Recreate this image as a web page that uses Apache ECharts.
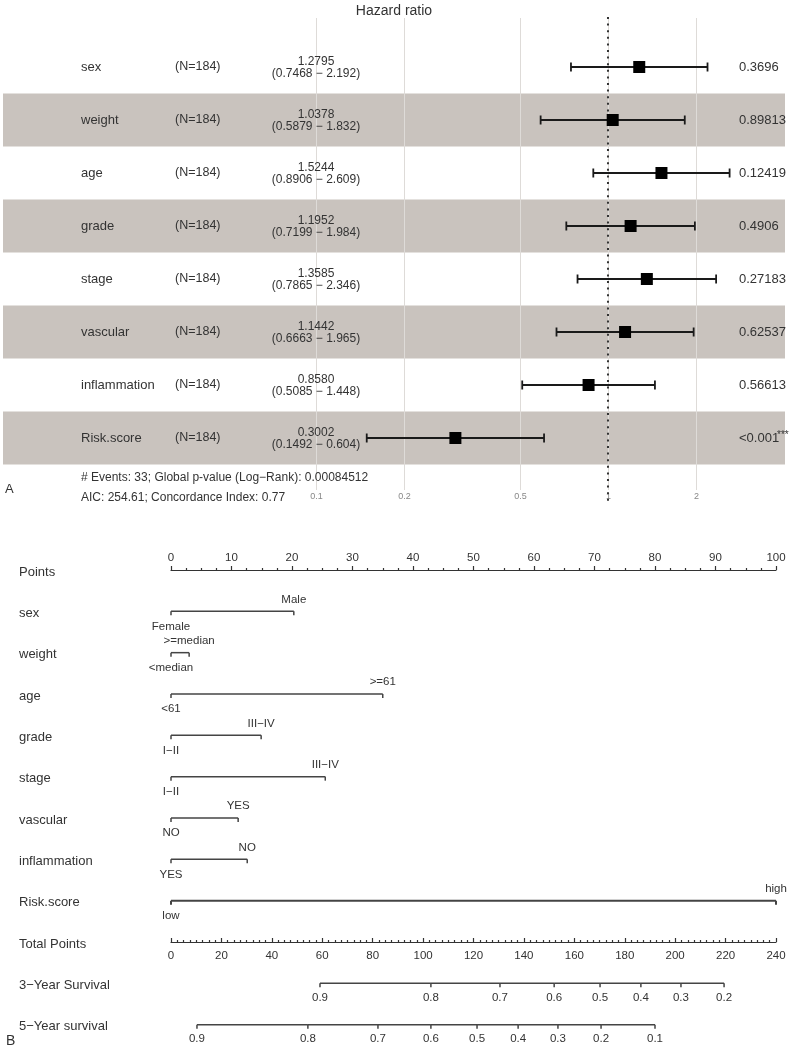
<!DOCTYPE html>
<html><head><meta charset="utf-8">
<script src="https://cdn.jsdelivr.net/npm/echarts@6/dist/echarts.min.js"></script>
<style>html,body{margin:0;padding:0;background:#fff}#c{width:800px;height:1052px}</style>
</head><body><div id="c"></div>
<script>
// ---------- Panel A: forest plot data ----------
const variables = ['sex','weight','age','grade','stage','vascular','inflammation','Risk.score'];
const nLabels = ['(N=184)','(N=184)','(N=184)','(N=184)','(N=184)','(N=184)','(N=184)','(N=184)'];
const hr = [1.2795, 1.0378, 1.5244, 1.1952, 1.3585, 1.1442, 0.8580, 0.3002];
const hrText = ['1.2795','1.0378','1.5244','1.1952','1.3585','1.1442','0.8580','0.3002'];
const ciLow = [0.7468, 0.5879, 0.8906, 0.7199, 0.7865, 0.6663, 0.5085, 0.1492];
const ciHigh = [2.192, 1.832, 2.609, 1.984, 2.346, 1.965, 1.448, 0.604];
const ciText = ['(0.7468 \u2212 2.192)','(0.5879 \u2212 1.832)','(0.8906 \u2212 2.609)','(0.7199 \u2212 1.984)',
                '(0.7865 \u2212 2.346)','(0.6663 \u2212 1.965)','(0.5085 \u2212 1.448)','(0.1492 \u2212 0.604)'];
const pValues = ['0.3696','0.89813','0.12419','0.4906','0.27183','0.62537','0.56613','<0.001'];
const signif = ['','','','','','','','***'];
const shadedRows = [2, 4, 6, 8];
const hrTicks = [0.1, 0.2, 0.5, 1, 2];
const hrTickLabels = ['0.1','0.2','0.5','1','2'];
const forestTitle = 'Hazard ratio';
const footer1 = '# Events: 33; Global p-value (Log\u2212Rank): 0.00084512';
const footer2 = 'AIC: 254.61; Concordance Index: 0.77';

// ---------- Panel B: nomogram data ----------
const nomoRows = ['Points','sex','weight','age','grade','stage','vascular','inflammation','Risk.score',
                  'Total Points','3\u2212Year Survival','5\u2212Year survival'];
const lowLevels = ['Female','<median','<61','I\u2212II','I\u2212II','NO','YES','low'];
const highLevels = ['Male','>=median','>=61','III\u2212IV','III\u2212IV','YES','NO','high'];
const highPoints = [20.3, 3.0, 35.0, 14.9, 25.5, 11.1, 12.6, 100];
const surv3Labels = ['0.9','0.8','0.7','0.6','0.5','0.4','0.3','0.2'];
const surv3Points = [59.1, 103.1, 130.5, 152.0, 170.2, 186.4, 202.3, 219.4];
const surv5Labels = ['0.9','0.8','0.7','0.6','0.5','0.4','0.3','0.2','0.1'];
const surv5Points = [10.3, 54.3, 82.1, 103.1, 121.4, 137.7, 153.5, 170.6, 192.0];

// ---------- styles ----------
const FONT = '"Liberation Sans", Arial, sans-serif';
const TXT = '#333';
const BAND = '#c9c3be';
const NOMO_LINE = '#444';

function txt(x, y, text, size, align, extra) {
  return Object.assign({ type: 'text', x: x, y: y,
    style: { text: text, fontSize: size, fontFamily: FONT, fill: TXT, align: align || 'left', verticalAlign: 'middle' } }, extra || {});
}
function ts(size) { return { fontSize: size, fontWeight: 'normal', color: TXT, fontFamily: FONT }; }

const chart = echarts.init(document.getElementById('c'), null, { renderer: 'canvas' });

const option = {
  backgroundColor: '#fff',
  animation: false,
  title: [
    { text: forestTitle, left: 394, top: 4, padding: 0, textAlign: 'center', textStyle: ts(14) },
    { text: footer1, left: 81, top: 472, padding: 0, textStyle: ts(12) },
    { text: footer2, left: 81, top: 492, padding: 0, textStyle: ts(12) },
    { text: 'A', left: 5, top: 483, padding: 0, textStyle: ts(13) },
    { text: 'B', left: 6, top: 1034, padding: 0, textStyle: ts(14) }
  ],
  grid: [
    { left: 3, right: 15, top: 14, height: 477 },
    { left: 171, right: 24, top: 570, height: 372 }
  ],
  xAxis: [
    { gridIndex: 0, type: 'log', logBase: 10, min: Math.pow(10, -2.0719), max: Math.pow(10, 0.6062),
      axisLine: { show: false }, axisTick: { show: false }, axisLabel: { show: false }, splitLine: { show: false } },
    { gridIndex: 1, type: 'value', position: 'top', min: 0, max: 100, interval: 10,
      axisLine: { lineStyle: { color: '#333', width: 1.2 } },
      axisTick: { length: 4, lineStyle: { color: '#333', width: 1.2 } },
      minorTick: { show: true, splitNumber: 4, length: 2, lineStyle: { color: '#333', width: 1.2 } },
      axisLabel: { fontSize: 11.5, color: TXT, fontFamily: FONT, margin: 6 },
      splitLine: { show: false } },
    { gridIndex: 1, type: 'value', position: 'bottom', min: 0, max: 240, interval: 20,
      axisLine: { lineStyle: { color: '#333', width: 1.2 } },
      axisTick: { inside: true, length: 4, lineStyle: { color: '#333', width: 1.2 } },
      minorTick: { show: true, splitNumber: 8, length: 2, lineStyle: { color: '#333', width: 1.2 } },
      axisLabel: { fontSize: 11.5, color: TXT, fontFamily: FONT, margin: 8 },
      splitLine: { show: false } }
  ],
  yAxis: [
    { gridIndex: 0, type: 'value', min: 0, max: 9, inverse: true, show: false },
    { gridIndex: 1, type: 'value', min: 0, max: 9, inverse: true, show: false }
  ],
  series: [
    // shaded bands
    { type: 'custom', xAxisIndex: 0, yAxisIndex: 0, silent: true, z: 1,
      data: shadedRows.map(r => [r]),
      renderItem: function (params, api) {
        const cs = params.coordSys;
        const r = api.value(0);
        const y0 = api.coord([1, r - 0.5])[1];
        const y1 = api.coord([1, r + 0.5])[1];
        return { type: 'rect', shape: { x: cs.x, y: y0, width: cs.width, height: y1 - y0 },
                 style: { fill: BAND } };
      } },
    // grid lines + tick labels
    { type: 'custom', xAxisIndex: 0, yAxisIndex: 0, silent: true, z: 2,
      data: hrTicks.map(v => [v]),
      renderItem: function (params, api) {
        const x = Math.round(api.coord([api.value(0), 1])[0]) + 0.5;
        const label = hrTickLabels[params.dataIndex];
        return { type: 'group', children: [
          { type: 'line', shape: { x1: x, y1: 18, x2: x, y2: 490 }, style: { stroke: '#dedbd8', lineWidth: 1 } },
          { type: 'text', x: x, y: 497, style: { text: label, fontSize: 9, fontFamily: FONT, fill: '#888', align: 'center', verticalAlign: 'middle' } }
        ] };
      } },
    // reference dotted line at HR = 1
    { type: 'custom', xAxisIndex: 0, yAxisIndex: 0, silent: true, z: 3,
      data: [[1]],
      renderItem: function (params, api) {
        const x = api.coord([api.value(0), 1])[0];
        return { type: 'line', shape: { x1: x, y1: 17, x2: x, y2: 502 },
                 style: { stroke: '#333', lineWidth: 2, lineDash: [2, 4.6] } };
      } },
    // confidence intervals
    { type: 'custom', xAxisIndex: 0, yAxisIndex: 0, silent: true, z: 4,
      data: variables.map((v, i) => [i + 1, ciLow[i], ciHigh[i]]),
      renderItem: function (params, api) {
        const row = api.value(0);
        const p1 = api.coord([api.value(1), row]);
        const p2 = api.coord([api.value(2), row]);
        const st = { stroke: '#1a1a1a', lineWidth: 1.8 };
        return { type: 'group', children: [
          { type: 'line', shape: { x1: p1[0], y1: p1[1], x2: p2[0], y2: p2[1] }, style: st },
          { type: 'line', shape: { x1: p1[0], y1: p1[1] - 4.5, x2: p1[0], y2: p1[1] + 4.5 }, style: st },
          { type: 'line', shape: { x1: p2[0], y1: p2[1] - 4.5, x2: p2[0], y2: p2[1] + 4.5 }, style: st }
        ] };
      } },
    // hazard ratio squares
    { type: 'scatter', xAxisIndex: 0, yAxisIndex: 0, silent: true, z: 5,
      symbol: 'rect', symbolSize: 12, itemStyle: { color: '#000', opacity: 1 },
      data: hr.map((v, i) => [v, i + 1]) },
    // table text
    { type: 'custom', xAxisIndex: 0, yAxisIndex: 0, silent: true, z: 6,
      data: variables.map((v, i) => [i + 1]),
      renderItem: function (params, api) {
        const i = params.dataIndex;
        const y = api.coord([1, api.value(0)])[1];
        const ch = [
          txt(81, y, variables[i], 13),
          txt(175, y, nLabels[i], 12.5),
          txt(316, y - 5, hrText[i], 12, 'center'),
          txt(316, y + 6.5, ciText[i], 12, 'center'),
          txt(739, y, pValues[i], 13)
        ];
        if (signif[i]) ch.push(txt(777, y - 3, signif[i], 10));
        return { type: 'group', children: ch };
      } },

    // ---------- nomogram ----------
    // row labels
    { type: 'custom', xAxisIndex: 1, yAxisIndex: 1, silent: true, clip: false,
      data: nomoRows.map((r, i) => [0, i]),
      renderItem: function (params, api) {
        const y = api.coord([0, api.value(1)])[1];
        return txt(19, y + 2, nomoRows[params.dataIndex], 13);
      } },
    // variable brackets
    { type: 'custom', xAxisIndex: 1, yAxisIndex: 1, silent: true, clip: false,
      data: highPoints.map((p, i) => [p, i + 1]),
      renderItem: function (params, api) {
        const i = params.dataIndex;
        const row = api.value(1);
        const a = api.coord([0, row]);
        const b = api.coord([api.value(0), row]);
        const w = i === 7 ? 2 : 1.5;
        const st = { stroke: NOMO_LINE, lineWidth: w };
        return { type: 'group', children: [
          { type: 'line', shape: { x1: a[0], y1: a[1], x2: b[0], y2: b[1] }, style: st },
          { type: 'line', shape: { x1: a[0], y1: a[1], x2: a[0], y2: a[1] + 4 }, style: st },
          { type: 'line', shape: { x1: b[0], y1: b[1], x2: b[0], y2: b[1] + 4 }, style: st },
          txt(b[0], b[1] - 12, highLevels[i], 11.5, 'center'),
          txt(a[0], a[1] + 15, lowLevels[i], 11.5, 'center')
        ] };
      } },
    // 3-year survival scale
    { type: 'custom', xAxisIndex: 2, yAxisIndex: 1, silent: true, clip: false,
      data: surv3Points.map(p => [p, 10]),
      renderItem: function (params, api) {
        const i = params.dataIndex;
        const row = api.value(1);
        const a = api.coord([api.value(0), row]);
        const st = { stroke: NOMO_LINE, lineWidth: 1.5 };
        const ch = [
          { type: 'line', shape: { x1: a[0], y1: a[1], x2: a[0], y2: a[1] + 4 }, style: st },
          txt(a[0], a[1] + 14, surv3Labels[i], 11.5, 'center')
        ];
        if (i < surv3Points.length - 1) {
          const b = api.coord([surv3Points[i + 1], row]);
          ch.push({ type: 'line', shape: { x1: a[0], y1: a[1], x2: b[0], y2: b[1] }, style: st });
        }
        return { type: 'group', children: ch };
      } },
    // 5-year survival scale
    { type: 'custom', xAxisIndex: 2, yAxisIndex: 1, silent: true, clip: false,
      data: surv5Points.map(p => [p, 11]),
      renderItem: function (params, api) {
        const i = params.dataIndex;
        const row = api.value(1);
        const a = api.coord([api.value(0), row]);
        const st = { stroke: NOMO_LINE, lineWidth: 1.5 };
        const ch = [
          { type: 'line', shape: { x1: a[0], y1: a[1], x2: a[0], y2: a[1] + 4 }, style: st },
          txt(a[0], a[1] + 14, surv5Labels[i], 11.5, 'center')
        ];
        if (i < surv5Points.length - 1) {
          const b = api.coord([surv5Points[i + 1], row]);
          ch.push({ type: 'line', shape: { x1: a[0], y1: a[1], x2: b[0], y2: b[1] }, style: st });
        }
        return { type: 'group', children: ch };
      } }
  ]
};
chart.setOption(option);
</script>
</body></html>
